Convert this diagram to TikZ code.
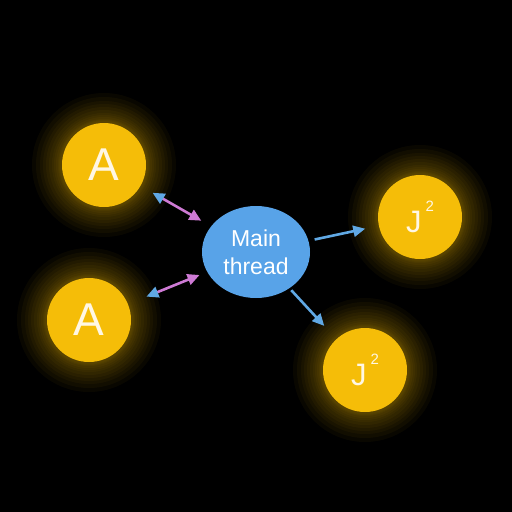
\documentclass[tikz,border=0pt]{standalone}
\usepackage{fontspec}
\setmainfont{Liberation Sans}
\usetikzlibrary{arrows.meta,shapes.geometric}
\definecolor{sun}{RGB}{245,189,8}
\definecolor{thread}{RGB}{88,163,232}
\definecolor{linkblue}{RGB}{96,168,228}
\definecolor{linkpink}{RGB}{206,122,212}
\definecolor{cream}{RGB}{255,247,228}

\begin{document}
\begin{tikzpicture}[x=1pt, y=-1pt,
        worker/.style={circle, fill=sun, minimum size=84pt, inner sep=0pt, text=cream,
            font=\fontsize{46}{46}\selectfont},
        job/.style={worker, font=\fontsize{31}{31}\selectfont},
        mainnode/.style={ellipse, fill=thread, minimum width=108pt, minimum height=92pt,
            inner sep=0pt, text=white, align=center, font=\fontsize{23}{28}\selectfont},
        duplex/.style={line width=2.6pt, linkpink,
            {Triangle[length=12pt, width=11pt, color=linkblue]}-{Triangle[length=12pt, width=11pt]}},
        send/.style={line width=2.6pt, linkblue, -{Triangle[length=12pt, width=11pt]}}]

        % Background
        \fill[black] (0,0) rectangle (512,512);

        % Centres of the yellow circles
        \coordinate (ca1) at (104,165);
        \coordinate (ca2) at (89,320);
        \coordinate (cj1) at (420,217);
        \coordinate (cj2) at (365,370);

        % Glow behind the yellow circles
        \foreach \c in {ca1, ca2, cj1, cj2}
            \foreach \r in {44,45,46,48,50,52,55,58,61,64,68,72}
                \fill[sun, fill opacity=0.04] (\c) circle (\r pt);

        % Main thread and the four circles
        \node[mainnode] (main) at (256,252) {Main\\thread};
        \node[worker] (a1) at (ca1) {A};
        \node[worker] (a2) at (ca2) {A};
        \node[job] (j1) at (cj1) {J\kern4pt\raisebox{0.68em}{\fontsize{15}{15}\selectfont 2}};
        \node[job] (j2) at (cj2) {J\kern4pt\raisebox{0.68em}{\fontsize{15}{15}\selectfont 2}};

        % Links between A and the main thread
        \draw[duplex, shorten <=56pt, shorten >=63pt] (a1.center) -- (main.center);
        \draw[duplex, shorten <=62pt, shorten >=61pt] (a2.center) -- (main.center);

        % Main thread hands work to J
        \draw[send, shorten <=60pt, shorten >=56pt] (main.center) -- (j1.center);
        \draw[send, shorten <=52pt, shorten >=60pt] (main.center) -- (j2.center);
\end{tikzpicture}
\end{document}
